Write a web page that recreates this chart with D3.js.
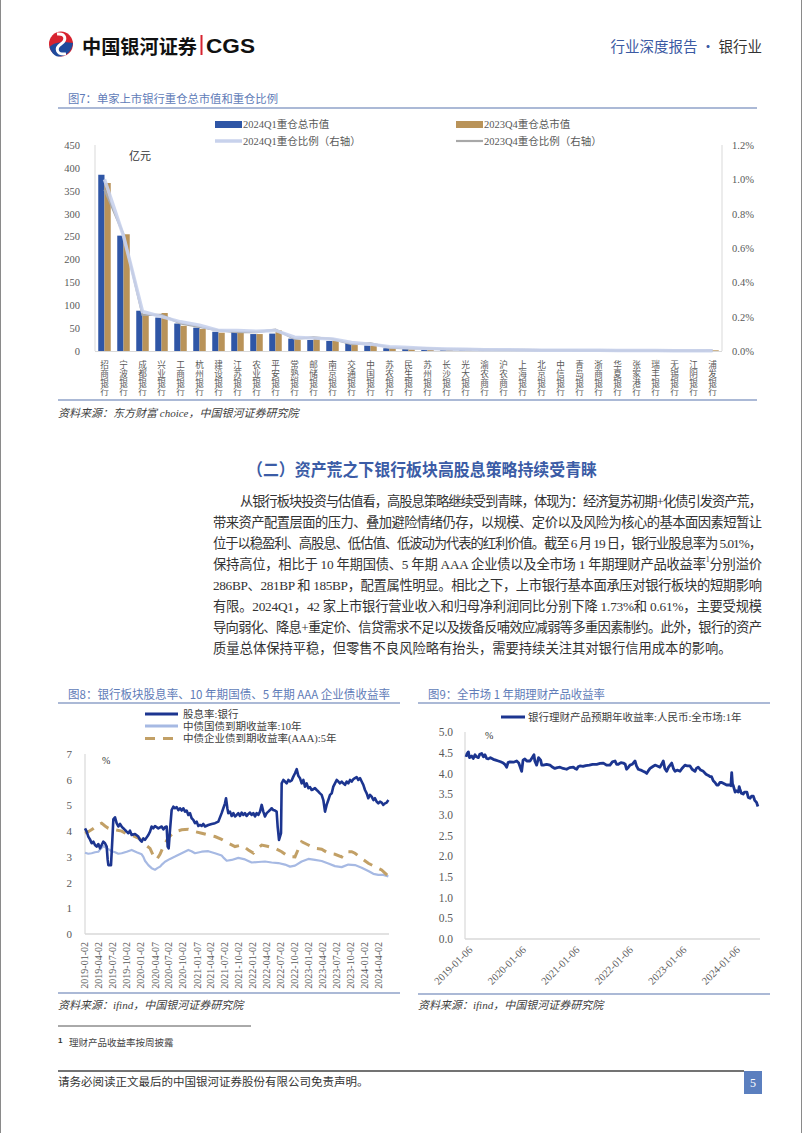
<!DOCTYPE html>
<html><head><meta charset="utf-8">
<script src="https://cdn.jsdelivr.net/npm/d3@7"></script>
<style>
html,body{margin:0;padding:0;background:#fff;}
svg{display:block;}
</style></head><body>
<svg id="page" width="802" height="1133"></svg>
<script>
// ---------------- DATA ----------------
const banks = ["招商银行","宁波银行","成都银行","兴业银行","工商银行","杭州银行","建设银行","江苏银行","农业银行","平安银行","常熟银行","邮储银行","南京银行","交通银行","中国银行","苏农银行","民生银行","苏州银行","长沙银行","光大银行","渝农商行","沪农商行","上海银行","北京银行","中信银行","青岛银行","浙商银行","华夏银行","张家港行","瑞丰银行","无锡银行","江阴银行","浦发银行"];
const mv2024Q1 = [385,252,88,73,60,51,42,42,37,38,27,24,22,17,12,6,4,3,2.5,2.2,1.5,1.3,1.2,1,1,0.9,0.8,0.7,0.6,0.5,0.5,0.4,0.4];
const mv2023Q4 = [367,255,78,83,55,48,40,40,37,45,24,29,23,13,14,6,3,3,2.5,2,1.5,1.2,1.2,1,1,0.9,0.8,0.7,0.6,0.5,0.5,0.4,1.5];
const ratio2024Q1 = [0.0100,0.0067,0.0023,0.0020,0.0017,0.0015,0.0012,0.0012,0.00115,0.0012,0.0008,0.00075,0.0007,0.0005,0.0004,0.00025,0.0002,0.00015,0.00012,0.0001,0.00008,0.00007,0.00006,0.00005,0.00005,0.00004,0.00004,0.00003,0.00003,0.00003,0.00002,0.00002,0.00002];
const ratio2023Q4 = [0.0094,0.0068,0.0021,0.0021,0.0016,0.0014,0.0012,0.0011,0.0011,0.00125,0.0007,0.0008,0.0007,0.0004,0.00045,0.0002,0.00015,0.00015,0.0001,0.0001,0.00008,0.00006,0.00006,0.00005,0.00005,0.00004,0.00004,0.00003,0.00003,0.00003,0.00002,0.00002,0.00004];
const fig7LeftTicks = [0,50,100,150,200,250,300,350,400,450];
const fig7RightTicks = [0,0.002,0.004,0.006,0.008,0.010,0.012];

// Figure 8 (x = decimal year)
const divBank = [[2019.018,4.11],[2019.048,3.98],[2019.077,3.79],[2019.107,3.68],[2019.137,3.53],[2019.167,3.59],[2019.196,3.46],[2019.226,3.40],[2019.256,3.50],[2019.286,3.33],[2019.315,3.46],[2019.345,3.59],[2019.375,3.53],[2019.405,3.40],[2019.423,2.88],[2019.435,2.68],[2019.482,2.68],[2019.506,3.66],[2019.524,4.46],[2019.554,4.54],[2019.583,4.31],[2019.613,4.18],[2019.643,4.28],[2019.673,4.18],[2019.702,4.11],[2019.732,4.05],[2019.762,3.98],[2019.792,3.92],[2019.821,4.02],[2019.851,3.85],[2019.911,3.89],[2019.970,3.79],[2020.000,3.66],[2020.030,3.59],[2020.060,3.72],[2020.089,3.66],[2020.149,3.85],[2020.179,3.98],[2020.208,4.18],[2020.238,4.11],[2020.268,4.20],[2020.327,4.11],[2020.387,4.18],[2020.417,4.07],[2020.446,4.15],[2020.476,4.18],[2020.494,3.40],[2020.512,3.33],[2020.536,4.05],[2020.565,4.82],[2020.595,4.95],[2020.625,4.89],[2020.655,4.93],[2020.685,4.82],[2020.714,4.89],[2020.744,4.80],[2020.774,4.89],[2020.804,4.76],[2020.833,4.80],[2020.863,4.63],[2020.893,4.70],[2020.923,4.50],[2020.952,4.44],[2020.982,4.31],[2021.012,4.37],[2021.042,4.20],[2021.071,4.24],[2021.101,4.20],[2021.131,4.28],[2021.161,4.18],[2021.220,4.24],[2021.280,4.28],[2021.339,4.31],[2021.399,4.37],[2021.458,4.70],[2021.488,4.89],[2021.518,5.08],[2021.536,5.28],[2021.560,4.89],[2021.577,4.70],[2021.607,4.76],[2021.637,4.59],[2021.667,4.70],[2021.696,4.57],[2021.726,4.63],[2021.756,4.70],[2021.786,4.59],[2021.815,4.72],[2021.845,4.63],[2021.875,4.70],[2021.905,4.59],[2021.935,4.67],[2021.964,4.72],[2021.994,4.63],[2022.024,4.70],[2022.054,4.57],[2022.083,4.70],[2022.113,4.63],[2022.143,4.76],[2022.173,5.02],[2022.202,4.76],[2022.232,4.57],[2022.262,4.70],[2022.292,4.76],[2022.321,4.82],[2022.351,4.89],[2022.381,4.82],[2022.411,4.80],[2022.440,4.76],[2022.458,4.18],[2022.470,3.92],[2022.482,3.66],[2022.500,3.79],[2022.518,3.92],[2022.530,5.86],[2022.560,5.99],[2022.589,5.93],[2022.619,5.86],[2022.649,5.99],[2022.679,5.93],[2022.708,5.97],[2022.738,6.12],[2022.768,6.25],[2022.798,6.41],[2022.827,6.15],[2022.857,6.06],[2022.887,5.86],[2022.917,5.99],[2022.946,5.73],[2022.976,5.86],[2023.006,5.67],[2023.036,5.71],[2023.065,5.60],[2023.095,5.63],[2023.125,5.67],[2023.155,5.60],[2023.185,5.54],[2023.214,5.47],[2023.244,5.41],[2023.274,5.21],[2023.304,4.76],[2023.333,5.02],[2023.363,5.21],[2023.393,5.41],[2023.423,5.47],[2023.452,5.73],[2023.482,5.86],[2023.512,5.99],[2023.542,5.93],[2023.571,5.86],[2023.601,5.93],[2023.631,5.86],[2023.661,5.80],[2023.690,5.93],[2023.720,5.86],[2023.750,5.99],[2023.780,5.93],[2023.810,6.02],[2023.839,6.06],[2023.869,6.10],[2023.899,5.99],[2023.929,6.06],[2023.958,5.93],[2023.988,5.80],[2024.018,5.60],[2024.048,5.47],[2024.077,5.28],[2024.107,5.41],[2024.137,5.34],[2024.167,5.21],[2024.196,5.28],[2024.226,5.15],[2024.256,5.08],[2024.286,5.15],[2024.315,5.11],[2024.345,5.02],[2024.375,5.08],[2024.405,5.11],[2024.435,5.21]];
const cgb10y = [[2019.018,3.16],[2019.077,3.12],[2019.137,3.14],[2019.196,3.18],[2019.256,3.20],[2019.300,3.32],[2019.345,3.42],[2019.390,3.36],[2019.435,3.30],[2019.495,3.22],[2019.554,3.18],[2019.613,3.12],[2019.673,3.14],[2019.762,3.20],[2019.851,3.27],[2019.940,3.18],[2020.030,3.10],[2020.060,3.00],[2020.089,2.85],[2020.149,2.68],[2020.208,2.56],[2020.268,2.50],[2020.310,2.56],[2020.357,2.62],[2020.400,2.72],[2020.446,2.81],[2020.536,2.92],[2020.625,3.01],[2020.744,3.14],[2020.863,3.27],[2020.920,3.22],[2020.982,3.14],[2021.101,3.20],[2021.220,3.22],[2021.339,3.14],[2021.458,3.05],[2021.500,2.95],[2021.548,2.85],[2021.637,2.88],[2021.756,2.96],[2021.875,2.90],[2021.994,2.78],[2022.113,2.80],[2022.232,2.82],[2022.351,2.78],[2022.470,2.76],[2022.589,2.70],[2022.679,2.62],[2022.768,2.66],[2022.887,2.82],[2023.006,2.92],[2023.125,2.88],[2023.244,2.84],[2023.363,2.74],[2023.482,2.64],[2023.601,2.60],[2023.720,2.70],[2023.839,2.68],[2023.958,2.58],[2024.077,2.45],[2024.167,2.34],[2024.256,2.30],[2024.345,2.30],[2024.435,2.24]];
const corpAAA5y = [[2019.018,3.92],[2019.077,3.98],[2019.167,4.10],[2019.256,4.25],[2019.315,4.31],[2019.375,4.20],[2019.435,4.11],[2019.554,4.05],[2019.673,4.00],[2019.762,3.89],[2019.911,3.79],[2020.000,3.70],[2020.060,3.53],[2020.179,3.33],[2020.238,3.05],[2020.298,2.90],[2020.357,3.10],[2020.417,3.40],[2020.506,3.75],[2020.625,3.98],[2020.744,4.05],[2020.863,4.07],[2020.982,3.98],[2021.101,3.92],[2021.220,3.85],[2021.339,3.79],[2021.458,3.68],[2021.577,3.53],[2021.696,3.40],[2021.815,3.46],[2021.935,3.27],[2022.024,3.15],[2022.113,3.35],[2022.173,3.46],[2022.292,3.40],[2022.411,3.33],[2022.530,3.20],[2022.649,3.01],[2022.768,3.00],[2022.827,3.30],[2022.887,3.59],[2023.006,3.46],[2023.125,3.33],[2023.244,3.30],[2023.363,3.14],[2023.482,3.10],[2023.601,3.00],[2023.661,3.20],[2023.780,3.20],[2023.839,3.14],[2023.958,2.94],[2024.077,2.75],[2024.196,2.62],[2024.315,2.49],[2024.435,2.25]];
const fig8XTickLabels = ["2019-01-02","2019-04-02","2019-07-02","2019-10-02","2020-01-02","2020-04-07","2020-07-02","2020-10-02","2021-01-07","2021-04-02","2021-07-02","2021-10-02","2022-01-02","2022-04-02","2022-07-02","2022-10-02","2023-01-02","2023-04-02","2023-07-02","2023-10-02","2024-01-02","2024-04-02"];
const fig8YTicks = [0,1,2,3,4,5,6,7];
const fig8Names = ["股息率:银行","中债国债到期收益率:10年","中债企业债到期收益率(AAA):5年"];

// Figure 9
const wmp1y = [[2019.014,4.40],[2019.035,4.48],[2019.058,4.52],[2019.080,4.38],[2019.120,4.42],[2019.150,4.36],[2019.182,4.45],[2019.210,4.40],[2019.244,4.38],[2019.270,4.46],[2019.307,4.48],[2019.340,4.40],[2019.369,4.45],[2019.400,4.36],[2019.431,4.35],[2019.470,4.38],[2019.524,4.34],[2019.570,4.32],[2019.618,4.30],[2019.660,4.28],[2019.711,4.25],[2019.740,4.22],[2019.774,4.15],[2019.800,4.26],[2019.836,4.28],[2019.900,4.27],[2019.961,4.30],[2020.000,4.25],[2020.054,4.05],[2020.080,4.32],[2020.114,4.35],[2020.150,4.30],[2020.210,4.30],[2020.250,4.38],[2020.284,4.45],[2020.300,4.30],[2020.334,4.20],[2020.370,4.38],[2020.409,4.32],[2020.430,4.20],[2020.459,4.20],[2020.520,4.22],[2020.584,4.20],[2020.620,4.16],[2020.674,4.12],[2020.720,4.14],[2020.771,4.15],[2020.830,4.12],[2020.894,4.10],[2020.950,4.14],[2021.020,4.15],[2021.050,4.12],[2021.083,4.10],[2021.110,4.16],[2021.144,4.18],[2021.200,4.17],[2021.252,4.19],[2021.320,4.20],[2021.380,4.22],[2021.457,4.22],[2021.520,4.24],[2021.581,4.25],[2021.640,4.20],[2021.704,4.20],[2021.750,4.28],[2021.799,4.30],[2021.830,4.22],[2021.861,4.22],[2021.910,4.26],[2021.954,4.25],[2021.990,4.22],[2022.014,4.10],[2022.050,4.15],[2022.079,4.20],[2022.120,4.22],[2022.173,4.30],[2022.200,4.18],[2022.234,4.10],[2022.280,4.08],[2022.324,4.05],[2022.360,4.03],[2022.392,4.00],[2022.420,4.06],[2022.454,4.12],[2022.500,4.16],[2022.547,4.20],[2022.590,4.18],[2022.640,4.15],[2022.670,4.22],[2022.702,4.30],[2022.730,4.12],[2022.764,4.05],[2022.800,4.15],[2022.859,4.25],[2022.890,4.12],[2022.921,4.05],[2022.960,4.08],[2023.014,4.05],[2023.050,4.12],[2023.107,4.20],[2023.150,4.18],[2023.201,4.18],[2023.240,4.10],[2023.294,4.05],[2023.320,4.12],[2023.354,4.15],[2023.400,4.08],[2023.450,4.05],[2023.500,3.98],[2023.544,3.95],[2023.575,3.92],[2023.604,3.92],[2023.635,3.82],[2023.668,3.78],[2023.700,3.72],[2023.730,3.72],[2023.760,3.78],[2023.794,3.78],[2023.840,3.75],[2023.884,3.72],[2023.920,3.72],[2023.949,3.72],[2023.965,3.70],[2023.980,4.02],[2023.995,3.75],[2024.011,3.70],[2024.044,3.55],[2024.070,3.58],[2024.104,3.55],[2024.120,3.68],[2024.134,3.62],[2024.160,3.52],[2024.194,3.50],[2024.220,3.55],[2024.264,3.55],[2024.290,3.42],[2024.324,3.40],[2024.350,3.45],[2024.384,3.45],[2024.410,3.35],[2024.444,3.30],[2024.470,3.20]];
const fig9XTickLabels = ["2019-01-06","2020-01-06","2021-01-06","2022-01-06","2023-01-06","2024-01-06"];
const fig9YTicks = [0,0.5,1,1.5,2,2.5,3,3.5,4,4.5,5];

const paragraphLines = [
 "从银行板块投资与估值看，高股息策略继续受到青睐，体现为：经济复苏初期+化债引发资产荒，",
 "带来资产配置层面的压力、叠加避险情绪仍存，以规模、定价以及风险为核心的基本面因素短暂让",
 "位于以稳盈利、高股息、低估值、低波动为代表的红利价值。截至 6 月 19 日，银行业股息率为 5.01%，",
 "保持高位，相比于 10 年期国债、5 年期 AAA 企业债以及全市场 1 年期理财产品收益率|1|分别溢价",
 "286BP、281BP 和 185BP，配置属性明显。相比之下，上市银行基本面承压对银行板块的短期影响",
 "有限。2024Q1，42 家上市银行营业收入和归母净利润同比分别下降 1.73%和 0.61%，主要受规模",
 "导向弱化、降息+重定价、信贷需求不足以及拨备反哺效应减弱等多重因素制约。此外，银行的资产",
 "质量总体保持平稳，但零售不良风险略有抬头，需要持续关注其对银行信用成本的影响。"
];

// ---------------- DRAWING ----------------
const SERIF = "'Liberation Serif','Times New Roman','Noto Sans CJK SC',serif";
const CJK = "'Noto Sans CJK SC','Noto Sans',sans-serif";
const svg = d3.select("#page");
svg.append("rect").attr("width",802).attr("height",1133).attr("fill","#fff");
svg.append("line").attr("x1",0.5).attr("x2",0.5).attr("y1",0).attr("y2",1133).attr("stroke","#8a8a8a");
svg.append("line").attr("x1",801.5).attr("x2",801.5).attr("y1",0).attr("y2",1133).attr("stroke","#8a8a8a");

function text(x,y,s,o={}){
  const t=svg.append("text").attr("x",x).attr("y",y).text(s)
    .attr("font-family",o.ff||CJK).attr("font-size",o.fs||12).attr("fill",o.fill||"#333")
    .attr("dominant-baseline","central");
  if(o.fw) t.attr("font-weight",o.fw);
  if(o.anchor) t.attr("text-anchor",o.anchor);
  if(o.italic) t.attr("font-style","italic");
  if(o.tl) t.attr("textLength",o.tl).attr("lengthAdjust","spacingAndGlyphs");
  return t;
}
function hline(x1,x2,y,c,w){svg.append("line").attr("x1",x1).attr("x2",x2).attr("y1",y).attr("y2",y).attr("stroke",c).attr("stroke-width",w);}

// ---- header ----
const logo = svg.append("g");
logo.append("ellipse").attr("cx",61).attr("cy",44).attr("rx",12).attr("ry",12.5).attr("fill","#d7232f");
logo.append("path").attr("d","M49.5,47 C55,41 66,42 73,43 C72,51 66,57 58,56.5 C54,56 51,52 49.5,47Z").attr("fill","#1f4a9c");
logo.append("path").attr("d","M57,34 C66,33 67,40 61,44 C55,48 56,55 66,54").attr("fill","none").attr("stroke","#fff").attr("stroke-width",3);
text(82,45,"中国银河证券",{fs:19,fw:"bold",fill:"#111",tl:115});
svg.append("rect").attr("x",200.5).attr("y",35).attr("width",2).attr("height",20).attr("fill","#d7232f");
text(206,45,"CGS",{fs:21,fw:"bold",fill:"#111",ff:"'Liberation Sans',Arial,sans-serif",tl:49});
const hr = text(762,45,"",{fs:14.5,anchor:"end"});
hr.append("tspan").attr("fill","#3b5aa3").text("行业深度报告 · ");
hr.append("tspan").attr("fill","#333").text("银行业");

// ---- figure 7 ----
const titleColor = "#5f7cb8", ruleColor = "#8fa2c8";
text(68,98,"图7：单家上市银行重仓总市值和重仓比例",{fs:11.5,fill:titleColor,tl:210});
hline(58,757,108,ruleColor,1.5);

const f7 = svg.append("g");
const x7 = d3.scaleBand().domain(banks).range([95,722]).padding(0);
const xs7 = d3.scaleBand().domain(["q1","q4"]).range([0,x7.bandwidth()]).paddingOuter(0.52).paddingInner(0);
const yL7 = d3.scaleLinear().domain([0,450]).range([351,145]);
const yR7 = d3.scaleLinear().domain([0,0.012]).range([351,145]);
f7.append("line").attr("x1",95).attr("x2",95).attr("y1",145).attr("y2",351).attr("stroke","#d9d9d9");
f7.append("line").attr("x1",722).attr("x2",722).attr("y1",145).attr("y2",351).attr("stroke","#d9d9d9");
f7.append("line").attr("x1",95).attr("x2",722).attr("y1",351.5).attr("y2",351.5).attr("stroke","#d9d9d9");
f7.selectAll("rect.q1").data(banks).enter().append("rect")
  .attr("x",d=>x7(d)+xs7("q1")).attr("width",xs7.bandwidth())
  .attr("y",(d,i)=>yL7(mv2024Q1[i])).attr("height",(d,i)=>351-yL7(mv2024Q1[i])).attr("fill","#2f56a6");
f7.selectAll("rect.q4").data(banks).enter().append("rect")
  .attr("x",d=>x7(d)+xs7("q4")).attr("width",xs7.bandwidth())
  .attr("y",(d,i)=>yL7(mv2023Q4[i])).attr("height",(d,i)=>351-yL7(mv2023Q4[i])).attr("fill","#b99359");
const lineR7 = arr => d3.line().x((d,i)=>x7(banks[i])+x7.bandwidth()/2).y(d=>yR7(d))(arr);
f7.append("path").attr("d",lineR7(ratio2023Q4)).attr("fill","none").attr("stroke","#a8a8a8").attr("stroke-width",2.2);
f7.append("path").attr("d",lineR7(ratio2024Q1)).attr("fill","none").attr("stroke","#c8d2ec").attr("stroke-width",3.5).attr("stroke-opacity",0.9);
const axL7 = f7.append("g").attr("transform","translate(95,0)").call(d3.axisLeft(yL7).tickValues(fig7LeftTicks).tickSize(0).tickPadding(15));
const axR7 = f7.append("g").attr("transform","translate(722,0)").call(d3.axisRight(yR7).tickValues(fig7RightTicks).tickSize(0).tickPadding(10).tickFormat(d3.format(".1%")));
[axL7,axR7].forEach(a=>{a.select(".domain").remove();a.selectAll("text").attr("font-family",SERIF).attr("font-size",10.5).attr("fill","#595959");});
// vertical category labels: one upright character per line
const lab7 = f7.append("g");
banks.forEach(b=>{
  Array.from(b).forEach((ch,k)=>{
    lab7.append("text").attr("x",x7(b)+x7.bandwidth()/2).attr("y",364+k*9)
      .attr("text-anchor","middle").attr("dominant-baseline","central")
      .attr("font-family",CJK).attr("font-size",8.6).attr("fill","#595959").text(ch);
  });
});
text(129,155,"亿元",{fs:11,fill:"#333"});
// legend
svg.append("rect").attr("x",215).attr("y",121).attr("width",27).attr("height",7).attr("fill","#2f56a6");
text(243,124.5,"2024Q1重仓总市值",{fs:10.5,fill:"#595959",ff:SERIF});
svg.append("rect").attr("x",456).attr("y",121).attr("width",27).attr("height",7).attr("fill","#b99359");
text(484,124.5,"2023Q4重仓总市值",{fs:10.5,fill:"#595959",ff:SERIF});
hline(215,242,141,"#c8d2ec",3.5);
text(243,141,"2024Q1重仓比例（右轴）",{fs:10.5,fill:"#595959",ff:SERIF});
hline(456,483,141,"#a8a8a8",2.2);
text(484,141,"2023Q4重仓比例（右轴）",{fs:10.5,fill:"#595959",ff:SERIF});
hline(58,757,400,ruleColor,1.5);
text(58,413,"资料来源：东方财富 choice，中国银河证券研究院",{fs:11,fill:"#404040",italic:true,ff:SERIF});

// ---- section heading & paragraph ----
text(247,468,"（二）资产荒之下银行板块高股息策略持续受青睐",{fs:17,fw:"bold",fill:"#3b5ca6",tl:350});
paragraphLines.forEach((ln,i)=>{
  const y = 501 + i*21;
  const x0 = i===0 ? 240 : 213;
  const t = svg.append("text").attr("x",x0).attr("y",y).attr("dominant-baseline","central")
    .attr("font-family",SERIF).attr("font-size",13.3).attr("fill","#333");
  const parts = ln.split("|");
  parts.forEach((p,k)=>{
    const ts=t.append("tspan").text(p);
    if(k===1){ts.attr("font-size",8).attr("dy",-5);}
    if(k===2){ts.attr("dy",5);}
  });
  if(i<7) t.attr("textLength",762-x0).attr("lengthAdjust","spacing");
});

// ---- figure 8 ----
text(68,693,"图8：银行板块股息率、10 年期国债、5 年期 AAA 企业债收益率",{fs:12,fill:titleColor,tl:322});
hline(58,400,703,ruleColor,1.5);
const f8 = svg.append("g");
function decYear(s){const d=new Date(s+"T00:00:00Z");const y=d.getUTCFullYear();return y+(d-Date.UTC(y,0,1))/(Date.UTC(y+1,0,1)-Date.UTC(y,0,1));}
const x8 = d3.scaleLinear().domain([2019,2024.5]).range([84,392]);
const y8 = d3.scaleLinear().domain([0,7]).range([934,754]);
f8.append("line").attr("x1",85).attr("x2",85).attr("y1",754).attr("y2",934).attr("stroke","#d9d9d9").attr("stroke-width",1.2);
f8.append("line").attr("x1",85).attr("x2",389).attr("y1",934).attr("y2",934).attr("stroke","#d9d9d9").attr("stroke-width",1.5);
const line8 = d3.line().x(d=>x8(d[0])).y(d=>y8(d[1]));
f8.append("path").attr("d",line8(cgb10y)).attr("fill","none").attr("stroke","#a6b9e3").attr("stroke-width",2.2).attr("stroke-linejoin","round");
f8.append("path").attr("d",line8(corpAAA5y)).attr("fill","none").attr("stroke","#c2a066").attr("stroke-width",3).attr("stroke-dasharray","10,8");
f8.append("path").attr("d",line8(divBank)).attr("fill","none").attr("stroke","#1c3590").attr("stroke-width",2.6).attr("stroke-linejoin","round");
const ax8y = f8.append("g").attr("transform","translate(85,0)").call(d3.axisLeft(y8).tickValues(fig8YTicks).tickSize(0).tickPadding(13).tickFormat(d3.format("d")));
const tick8 = fig8XTickLabels.map(decYear);
const ax8x = f8.append("g").attr("transform","translate(0,934)").call(d3.axisBottom(x8).tickValues(tick8).tickSize(0).tickFormat((d,i)=>fig8XTickLabels[i]));
ax8x.selectAll("text").attr("transform","rotate(-90)").attr("text-anchor","end").attr("x",-8).attr("y",0).attr("dy","0.35em");
[ax8y,ax8x].forEach(a=>{a.select(".domain").remove();a.selectAll("text").attr("font-family",SERIF).attr("font-size",a===ax8y?11:10).attr("fill","#595959");});
text(102,760,"%",{fs:10,fill:"#333",ff:SERIF});
hline(145,178,714,"#1c3590",3);
hline(145,178,726,"#a6b9e3",3);
svg.append("line").attr("x1",145).attr("x2",180).attr("y1",738.5).attr("y2",738.5).attr("stroke","#c2a066").attr("stroke-width",3).attr("stroke-dasharray","10,8");
fig8Names.forEach((n,i)=>text(183,[714,726,738.5][i],n,{fs:10.5,fill:"#404040",ff:SERIF}));
hline(58,400,993,ruleColor,1.5);
text(58,1005,"资料来源：ifind，中国银河证券研究院",{fs:11,fill:"#404040",italic:true,ff:SERIF});

// ---- figure 9 ----
text(428,693,"图9：全市场 1 年期理财产品收益率",{fs:12,fill:titleColor,tl:177});
hline(418,770,703,ruleColor,1.5);
const f9 = svg.append("g");
const x9 = d3.scaleLinear().domain([decYear("2019-01-06"),decYear("2024-01-06")]).range([466,733.5]);
const y9 = d3.scaleLinear().domain([0,5]).range([939,732]);
f9.append("line").attr("x1",465).attr("x2",465).attr("y1",732).attr("y2",939).attr("stroke","#d9d9d9").attr("stroke-width",1.2);
f9.append("line").attr("x1",465).attr("x2",760).attr("y1",939).attr("y2",939).attr("stroke","#d9d9d9").attr("stroke-width",1.5);
f9.append("path").attr("d",d3.line().x(d=>x9(d[0])).y(d=>y9(d[1]))(wmp1y)).attr("fill","none").attr("stroke","#1c3590").attr("stroke-width",2.8).attr("stroke-linejoin","round");
const ax9y = f9.append("g").attr("transform","translate(465,0)").call(d3.axisLeft(y9).tickValues(fig9YTicks).tickSize(0).tickPadding(12).tickFormat(d3.format(".1f")));
const ax9x = f9.append("g").attr("transform","translate(0,939)").call(d3.axisBottom(x9).tickValues(fig9XTickLabels.map(decYear)).tickSize(0).tickFormat((d,i)=>fig9XTickLabels[i]));
ax9x.selectAll("text").attr("transform","translate(4,9) rotate(-45)").attr("text-anchor","end").attr("x",0).attr("y",0).attr("dy","0.35em");
[ax9y,ax9x].forEach(a=>{a.select(".domain").remove();a.selectAll("text").attr("font-family",SERIF).attr("font-size",a===ax9y?11.5:10.5).attr("fill","#595959");});
text(485,735,"%",{fs:10,fill:"#333",ff:SERIF});
hline(501,525,717,"#1c3590",3);
text(528,717,"银行理财产品预期年收益率:人民币:全市场:1年",{fs:10.5,fill:"#404040",ff:SERIF});
hline(418,770,994,ruleColor,1.5);
text(418,1005,"资料来源：ifind，中国银河证券研究院",{fs:11,fill:"#404040",italic:true,ff:SERIF});

// ---- footnote & footer ----
hline(58,251,1026,"#555",1);
text(58,1040,"1",{fs:8,fill:"#333",ff:"'Liberation Sans',sans-serif",fw:"bold"});
text(69,1042,"理财产品收益率按周披露",{fs:9.5,fill:"#444"});
hline(58,744,1071,"#444",1.5);
svg.append("rect").attr("x",744).attr("y",1071).attr("width",18).attr("height",23).attr("fill","#5b7fbf");
text(753,1083,"5",{fs:12,fill:"#fff",anchor:"middle",ff:SERIF});
text(58,1081,"请务必阅读正文最后的中国银河证券股份有限公司免责声明。",{fs:11.5,fill:"#333"});
</script>
</body></html>
